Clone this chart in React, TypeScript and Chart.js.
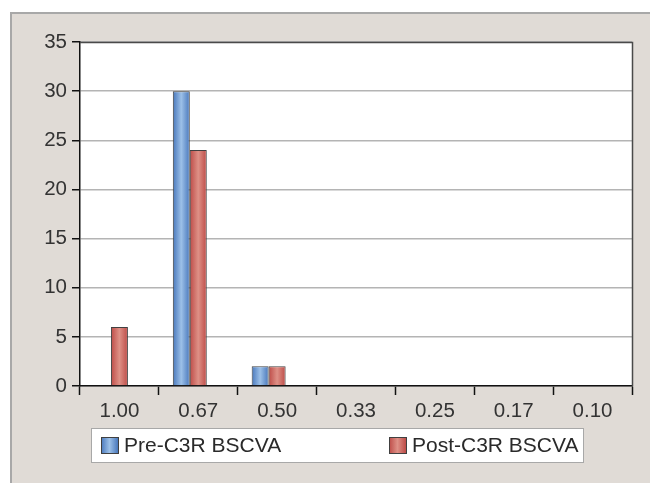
import React, { useEffect, useRef } from "react";
import { Chart, registerables } from "chart.js";

Chart.register(...registerables);

const categories = ["1.00", "0.67", "0.50", "0.33", "0.25", "0.17", "0.10"];
const preValues = [0, 30, 2, 0, 0, 0, 0];
const postValues = [6, 24, 2, 0, 0, 0, 0];
// empty third series slot from the original spreadsheet (reserves space, draws nothing)
const emptyValues = [null, null, null, null, null, null, null];
const seriesLabels = ["Pre-C3R BSCVA", "Post-C3R BSCVA"];
const yTicks = [0, 5, 10, 15, 20, 25, 30, 35];

const FONT = "'Liberation Sans', Arial, sans-serif";
const CAT_PCT = 0.646;
const SLOTS = 3;
const palettes = [
  { edge: "#4877bb", mid: "#9cc0e8" },
  { edge: "#bd4b47", mid: "#de9086" },
];

function makeGradient(ctx: CanvasRenderingContext2D, x0: number, x1: number, p: { edge: string; mid: string }) {
  if (!isFinite(x0) || !isFinite(x1) || x1 === x0) return p.edge as any;
  const g = ctx.createLinearGradient(x0, 0, x1, 0);
  g.addColorStop(0, p.edge);
  g.addColorStop(0.5, p.mid);
  g.addColorStop(1, p.edge);
  return g;
}

const framePlugin = {
  id: "frame",
  beforeDraw(chart: any) {
    const { ctx, chartArea: ca, width, height } = chart;
    ctx.save();
    ctx.fillStyle = "#ffffff";
    ctx.fillRect(0, 0, width, height);
    ctx.fillStyle = "#e0dbd6";
    ctx.fillRect(11, 13, width, height);
    ctx.strokeStyle = "#a8a8a8";
    ctx.lineWidth = 2;
    ctx.beginPath();
    ctx.moveTo(11, height + 5);
    ctx.lineTo(11, 13);
    ctx.lineTo(width + 5, 13);
    ctx.stroke();
    ctx.fillStyle = "#ffffff";
    ctx.fillRect(ca.left, ca.top, ca.right - ca.left, ca.bottom - ca.top);
    ctx.restore();
  },
  afterDraw(chart: any) {
    const { ctx, chartArea: ca } = chart;
    ctx.save();
    ctx.strokeStyle = "#4a4a4a";
    ctx.lineWidth = 1.5;
    ctx.beginPath();
    ctx.moveTo(ca.left, ca.top + 0.5);
    ctx.lineTo(ca.right + 0.5, ca.top + 0.5);
    ctx.lineTo(ca.right + 0.5, ca.bottom);
    ctx.stroke();

    const bx = ca.left + 11;
    const by = ca.bottom + 42;
    const bw = 492;
    const bh = 34;
    ctx.fillStyle = "#ffffff";
    ctx.fillRect(bx, by, bw, bh);
    ctx.strokeStyle = "#a8a8a8";
    ctx.lineWidth = 1;
    ctx.strokeRect(bx + 0.5, by + 0.5, bw, bh);
    const offsets = [10, 298];
    seriesLabels.forEach((label, i) => {
      const sx = bx + offsets[i];
      const sy = by + 9;
      ctx.fillStyle = makeGradient(ctx, sx, sx + 17, palettes[i]);
      ctx.fillRect(sx, sy, 17, 16);
      ctx.strokeStyle = "#404040";
      ctx.lineWidth = 1;
      ctx.strokeRect(sx + 0.5, sy + 0.5, 17, 16);
      ctx.fillStyle = "#2a2a2a";
      ctx.font = `21px ${FONT}`;
      ctx.textBaseline = "middle";
      ctx.textAlign = "left";
      ctx.fillText(label, sx + 23, sy + 9);
    });
    ctx.restore();
  },
};

function barFill(datasetIndex: number) {
  return (c: any) => {
    const chart = c.chart;
    const xs = chart.scales?.x;
    const p = palettes[datasetIndex];
    if (!xs || c.dataIndex === undefined || !isFinite(xs.width) || xs.width <= 0) return p.edge;
    const center = xs.getPixelForValue(c.dataIndex);
    const catW = xs.width / categories.length;
    const bw = (catW * CAT_PCT) / SLOTS;
    const x0 = center - (SLOTS * bw) / 2 + datasetIndex * bw;
    return makeGradient(chart.ctx, x0, x0 + bw, p);
  };
}

export default function App() {
  const ref = useRef<HTMLCanvasElement>(null);
  useEffect(() => {
    if (!ref.current) return;
    const chart = new Chart(ref.current, {
      type: "bar",
      data: {
        labels: categories,
        datasets: [
          {
            label: seriesLabels[0],
            data: preValues,
            backgroundColor: barFill(0) as any,
            borderColor: "#404040",
            borderWidth: 1,
          },
          {
            label: seriesLabels[1],
            data: postValues,
            backgroundColor: barFill(1) as any,
            borderColor: "#404040",
            borderWidth: 1,
          },
          {
            label: "",
            data: emptyValues as any,
            backgroundColor: "rgba(0,0,0,0)",
            borderWidth: 0,
          },
        ],
      },
      options: {
        responsive: false,
        animation: false,
        layout: { padding: { left: 0, top: 42, right: 18, bottom: 57 } },
        datasets: { bar: { categoryPercentage: CAT_PCT, barPercentage: 1 } },
        plugins: { legend: { display: false }, tooltip: { enabled: false } },
        scales: {
          x: {
            grid: {
              offset: true,
              drawOnChartArea: false,
              drawTicks: true,
              tickLength: 9,
              tickColor: "#111",
              tickWidth: 1.5,
            },
            border: { color: "#111", width: 1.5 },
            ticks: { color: "#333", font: { family: FONT, size: 20.5 }, padding: 4 },
            afterFit: (s: any) => {
              s.height = 40;
            },
          },
          y: {
            min: 0,
            max: 35,
            afterBuildTicks: (s: any) => {
              s.ticks = yTicks.map((v) => ({ value: v }));
            },
            grid: {
              color: "#b4b4b4",
              lineWidth: 1.5,
              tickLength: 8,
              tickColor: "#111",
              tickWidth: 1.5,
            },
            border: { color: "#111", width: 1.5 },
            ticks: { color: "#333", font: { family: FONT, size: 20.5 }, padding: 5 },
            afterFit: (s: any) => {
              s.width = 80;
            },
          },
        },
      },
      plugins: [framePlugin],
    });
    return () => chart.destroy();
  }, []);
  return (
    <div style={{ position: "absolute", left: 0, top: 0, width: 650, height: 483 }}>
      <canvas ref={ref} width={650} height={483} style={{ display: "block" }} />
    </div>
  );
}
